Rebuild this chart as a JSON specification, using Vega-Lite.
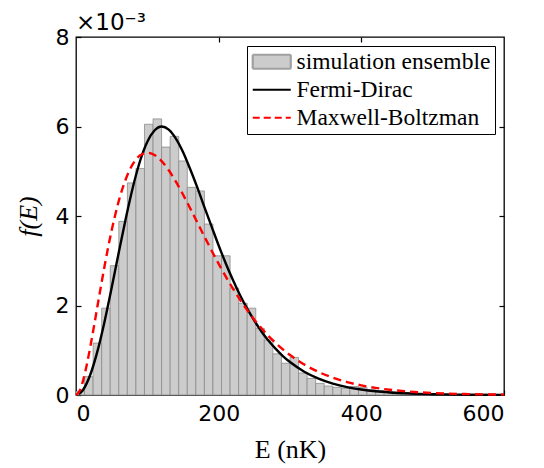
{
  "$schema": "https://vega.github.io/schema/vega-lite/v6.json",
  "width": 428,
  "height": 358,
  "autosize": "none",
  "padding": {"left": 76, "top": 37, "right": 40, "bottom": 73},
  "background": "white",
  "title": {"text": "×10⁻³", "anchor": "start", "frame": "group", "font": "DejaVu Sans", "fontSize": 23, "fontWeight": "normal", "color": "#000000", "offset": 2, "dy": 11},
  "config": {
    "view": {"stroke": "#000000", "strokeWidth": 1.3},
    "axis": {"domain": false, "grid": false, "tickColor": "#000000", "tickWidth": 1.2, "labelFont": "DejaVu Sans", "labelFontSize": 22, "labelColor": "#000000", "titleFont": "Liberation Serif", "titleFontSize": 26, "titleColor": "#000000", "titleFontWeight": "normal"}
  },
  "datasets": {
    "hist": [
      {"E0": 0, "E1": 12, "f": 0.08},
      {"E0": 12, "E1": 24, "f": 0.41},
      {"E0": 24, "E1": 36, "f": 1.16},
      {"E0": 36, "E1": 48, "f": 1.94},
      {"E0": 48, "E1": 60, "f": 2.89},
      {"E0": 60, "E1": 72, "f": 3.88},
      {"E0": 72, "E1": 84, "f": 4.74},
      {"E0": 84, "E1": 96, "f": 5.06},
      {"E0": 96, "E1": 108, "f": 6.05},
      {"E0": 108, "E1": 120, "f": 6.17},
      {"E0": 120, "E1": 132, "f": 5.54},
      {"E0": 132, "E1": 144, "f": 5.78},
      {"E0": 144, "E1": 156, "f": 5.23},
      {"E0": 156, "E1": 168, "f": 4.64},
      {"E0": 168, "E1": 180, "f": 4.56},
      {"E0": 180, "E1": 192, "f": 3.82},
      {"E0": 192, "E1": 204, "f": 3.11},
      {"E0": 204, "E1": 216, "f": 3.11},
      {"E0": 216, "E1": 228, "f": 2.39},
      {"E0": 228, "E1": 240, "f": 2.05},
      {"E0": 240, "E1": 252, "f": 1.94},
      {"E0": 252, "E1": 264, "f": 1.49},
      {"E0": 264, "E1": 276, "f": 1.23},
      {"E0": 276, "E1": 288, "f": 0.92},
      {"E0": 288, "E1": 300, "f": 0.71},
      {"E0": 300, "E1": 312, "f": 0.84},
      {"E0": 312, "E1": 324, "f": 0.49},
      {"E0": 324, "E1": 336, "f": 0.37},
      {"E0": 336, "E1": 348, "f": 0.26},
      {"E0": 348, "E1": 360, "f": 0.2},
      {"E0": 360, "E1": 372, "f": 0.17},
      {"E0": 372, "E1": 384, "f": 0.15},
      {"E0": 384, "E1": 396, "f": 0.19},
      {"E0": 396, "E1": 408, "f": 0.17},
      {"E0": 408, "E1": 420, "f": 0.12},
      {"E0": 420, "E1": 432, "f": 0.1},
      {"E0": 432, "E1": 444, "f": 0.08},
      {"E0": 444, "E1": 456, "f": 0.07},
      {"E0": 456, "E1": 468, "f": 0.05},
      {"E0": 468, "E1": 480, "f": 0.04},
      {"E0": 480, "E1": 492, "f": 0.03},
      {"E0": 492, "E1": 504, "f": 0.02},
      {"E0": 504, "E1": 516, "f": 0.02},
      {"E0": 516, "E1": 528, "f": 0.01},
      {"E0": 528, "E1": 540, "f": 0.01}
    ],
    "fd": [
      {"E": 4, "f": 0.02},
      {"E": 10, "f": 0.118},
      {"E": 20, "f": 0.453},
      {"E": 30, "f": 0.974},
      {"E": 40, "f": 1.639},
      {"E": 50, "f": 2.396},
      {"E": 60, "f": 3.19},
      {"E": 70, "f": 3.96},
      {"E": 80, "f": 4.66},
      {"E": 90, "f": 5.24},
      {"E": 100, "f": 5.66},
      {"E": 110, "f": 5.91},
      {"E": 120, "f": 6.0},
      {"E": 130, "f": 5.93},
      {"E": 140, "f": 5.73},
      {"E": 150, "f": 5.43},
      {"E": 160, "f": 5.05},
      {"E": 170, "f": 4.64},
      {"E": 180, "f": 4.2},
      {"E": 190, "f": 3.77},
      {"E": 200, "f": 3.34},
      {"E": 210, "f": 2.94},
      {"E": 220, "f": 2.57},
      {"E": 230, "f": 2.23},
      {"E": 240, "f": 1.93},
      {"E": 250, "f": 1.66},
      {"E": 260, "f": 1.42},
      {"E": 270, "f": 1.21},
      {"E": 280, "f": 1.03},
      {"E": 290, "f": 0.87},
      {"E": 300, "f": 0.736},
      {"E": 320, "f": 0.52},
      {"E": 340, "f": 0.366},
      {"E": 360, "f": 0.255},
      {"E": 380, "f": 0.176},
      {"E": 400, "f": 0.122},
      {"E": 420, "f": 0.083},
      {"E": 440, "f": 0.057},
      {"E": 460, "f": 0.0385},
      {"E": 480, "f": 0.026},
      {"E": 500, "f": 0.0176},
      {"E": 550, "f": 0.0065},
      {"E": 600, "f": 0.0023}
    ],
    "mb": [
      {"E": 0, "f": 0},
      {"E": 5, "f": 0.09},
      {"E": 10, "f": 0.327},
      {"E": 15, "f": 0.667},
      {"E": 20, "f": 1.072},
      {"E": 25, "f": 1.516},
      {"E": 30, "f": 1.976},
      {"E": 35, "f": 2.433},
      {"E": 40, "f": 2.876},
      {"E": 50, "f": 3.679},
      {"E": 60, "f": 4.337},
      {"E": 70, "f": 4.833},
      {"E": 80, "f": 5.169},
      {"E": 90, "f": 5.356},
      {"E": 100, "f": 5.413},
      {"E": 110, "f": 5.363},
      {"E": 120, "f": 5.225},
      {"E": 130, "f": 5.021},
      {"E": 140, "f": 4.767},
      {"E": 150, "f": 4.481},
      {"E": 160, "f": 4.174},
      {"E": 170, "f": 3.858},
      {"E": 180, "f": 3.541},
      {"E": 190, "f": 3.23},
      {"E": 200, "f": 2.931},
      {"E": 210, "f": 2.646},
      {"E": 220, "f": 2.377},
      {"E": 230, "f": 2.127},
      {"E": 240, "f": 1.896},
      {"E": 250, "f": 1.684},
      {"E": 260, "f": 1.492},
      {"E": 270, "f": 1.317},
      {"E": 280, "f": 1.16},
      {"E": 290, "f": 1.019},
      {"E": 300, "f": 0.892},
      {"E": 320, "f": 0.681},
      {"E": 340, "f": 0.515},
      {"E": 360, "f": 0.387},
      {"E": 380, "f": 0.289},
      {"E": 400, "f": 0.215},
      {"E": 420, "f": 0.159},
      {"E": 440, "f": 0.117},
      {"E": 460, "f": 0.086},
      {"E": 480, "f": 0.062},
      {"E": 500, "f": 0.045},
      {"E": 550, "f": 0.02},
      {"E": 600, "f": 0.009}
    ],
    "legendrows": []
  },
  "layer": [
    {
      "data": {"name": "hist"},
      "mark": {"type": "rect", "fill": "#cccccc", "stroke": "#8c8c8c", "strokeWidth": 0.8},
      "encoding": {
        "x": {"field": "E0", "type": "quantitative", "scale": {"domain": [0, 600], "nice": false, "zero": false},
              "axis": {"orient": "bottom", "values": [0, 200, 400, 600], "tickSize": -5, "labelPadding": 13, "title": "E (nK)", "titlePadding": 12}},
        "x2": {"field": "E1"},
        "y": {"field": "f", "type": "quantitative", "scale": {"domain": [0, 8], "nice": false},
              "axis": {"orient": "left", "values": [0, 2, 4, 6, 8], "tickSize": -5, "labelPadding": 12, "title": "f(E)", "titleFontStyle": "italic", "titlePadding": 14}},
        "y2": {"datum": 0}
      }
    },
    {
      "data": {"name": "fd"},
      "mark": {"type": "line", "color": "#000000", "strokeWidth": 2.4, "interpolate": "monotone"},
      "encoding": {
        "x": {"field": "E", "type": "quantitative", "axis": {"orient": "top", "values": [200, 400], "labels": false, "tickSize": -5, "title": null}},
        "y": {"field": "f", "type": "quantitative", "axis": {"orient": "right", "values": [2, 4, 6], "labels": false, "tickSize": -5, "title": null}}
      }
    },
    {
      "data": {"name": "mb"},
      "mark": {"type": "line", "color": "#ff0000", "strokeWidth": 2.4, "strokeDash": [8, 5], "interpolate": "monotone"},
      "encoding": {
        "x": {"field": "E", "type": "quantitative", "axis": null},
        "y": {"field": "f", "type": "quantitative", "axis": null}
      }
    },
    {
      "data": {"name": "legendrows"},
      "mark": {"type": "point", "opacity": 1},
      "encoding": {
        "shape": {"field": "series", "type": "nominal",
                  "scale": {"domain": ["simulation ensemble", "Fermi-Dirac", "Maxwell-Boltzman"], "range": ["M-1.9,-0.7H1.9V0.7H-1.9Z", "M-1.9,0H1.9", "M-1.9,0H1.9"]},
                  "legend": {
                    "orient": "none", "legendX": 171, "legendY": 9, "title": null,
                    "labelFont": "Liberation Serif", "labelFontSize": 23.5, "labelColor": "#000000", "labelLimit": 0,
                    "strokeColor": "#000000", "fillColor": "#ffffff", "padding": 4, "cornerRadius": 0,
                    "symbolSize": 400, "symbolOffset": 9, "labelOffset": 13, "rowPadding": 3,
                    "symbolStrokeWidth": 2.2, "symbolOpacity": 1
                  }},
        "fill": {"field": "series", "type": "nominal",
                 "scale": {"domain": ["simulation ensemble", "Fermi-Dirac", "Maxwell-Boltzman"], "range": ["#cccccc", "transparent", "transparent"]}},
        "stroke": {"field": "series", "type": "nominal",
                   "scale": {"domain": ["simulation ensemble", "Fermi-Dirac", "Maxwell-Boltzman"], "range": ["#a0a0a0", "#000000", "#ff0000"]}},
        "strokeDash": {"field": "series", "type": "nominal",
                       "scale": {"domain": ["simulation ensemble", "Fermi-Dirac", "Maxwell-Boltzman"], "range": [[1, 0], [1, 0], [7, 4]]}}
      }
    }
  ],
  "resolve": {"axis": {"x": "independent", "y": "independent"}}
}
